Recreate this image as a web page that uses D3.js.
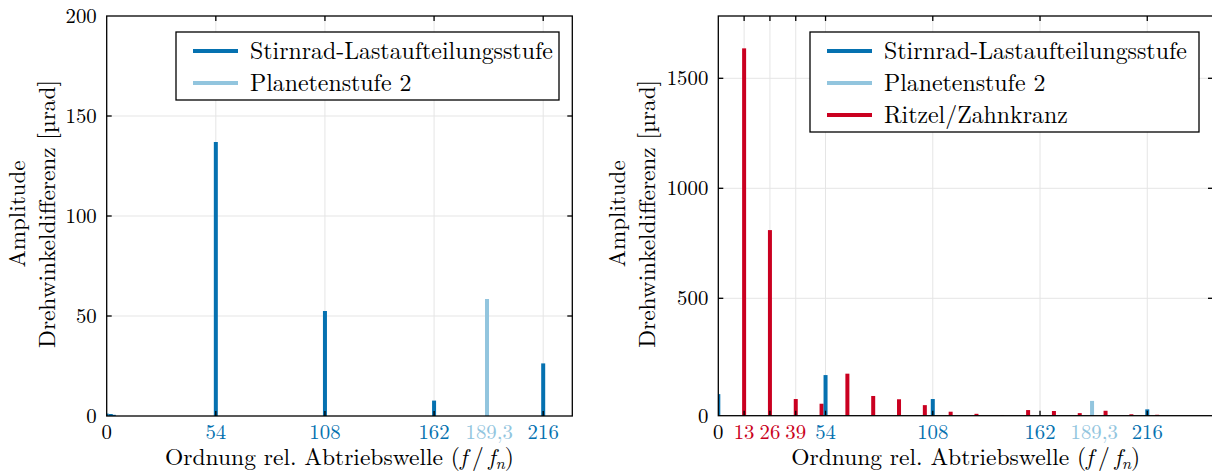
<!DOCTYPE html>
<html><head><meta charset="utf-8">
<script src="https://cdn.jsdelivr.net/npm/d3@7"></script>
<style>
body{margin:0;background:#fff;}
</style></head>
<body><svg id="c" width="1212" height="475"></svg>
<script>
// ---------- data ----------
const seriesNames = ["Stirnrad-Lastaufteilungsstufe", "Planetenstufe 2", "Ritzel/Zahnkranz"];
const colors = ["#0571b0", "#92c5de", "#ca0020"];

// left chart
const leftBlueX = [0, 2, 3.5, 54, 108, 162, 216];
const leftBlueY = [1.2, 1.0, 0.6, 137, 52.5, 7.7, 26.3];
const leftLightX = [188.2];
const leftLightY = [58.5];
const leftYTicks = [0, 50, 100, 150, 200];
const leftXTicks = [0, 54, 108, 162, 189.3, 216];
const leftXTickLabels = ["0", "54", "108", "162", "189,3", "216"];
const leftXTickSeries = [-1, 0, 0, 0, 1, 0];
const leftXGrid = [54, 108, 162, 216];

// right chart
const rightBlueX = [0, 54, 108, 162, 216];
const rightBlueY = [92, 173, 71, 2, 27];
const rightLightX = [188.2];
const rightLightY = [63];
const rightRedX = [13, 26, 39, 52, 65, 78, 91, 104, 117, 130, 143, 156, 169, 182, 195, 208, 221];
const rightRedY = [1636, 810, 71, 51, 179, 84, 70, 45, 17, 8, 3, 24, 20, 11, 21, 6, 4];
const rightYTicks = [0, 500, 1000, 1500];
const rightXTicks = [0, 13, 26, 39, 54, 108, 162, 189.3, 216];
const rightXTickLabels = ["0", "13", "26", "39", "54", "108", "162", "189,3", "216"];
const rightXTickSeries = [-1, 2, 2, 2, 0, 0, 0, 1, 0];
const rightXGrid = [13, 26, 39, 54, 108, 162, 216];

// ---------- drawing ----------
const FONT = "Latin Modern Roman";
const svg = d3.select("#c");
svg.append("rect").attr("width",1212).attr("height",475).attr("fill","#fff");

function fit(str, target, def){
  const p = svg.append("text").attr("font-family",FONT).attr("font-size",20).text(str);
  let s = 20*target/p.node().getComputedTextLength();
  p.remove();
  return (s>12 && s<30) ? s : def;
}
const FS_TICK = fit("1500", 41.6, 21);
const FS_LEG = fit("Stirnrad-Lastaufteilungsstufe", 303, 21);
const FS_AMP = fit("Amplitude", 107, 21);
const FS_DREH = fit("Drehwinkeldifferenz [µrad]", 268, 21);
const FS_XT = fit("Ordnung rel. Abtriebswelle (f\u2009/\u2009fn)", 353, 21);

function T(sel, fs){ return sel.attr("font-family",FONT).attr("font-size",fs).attr("fill","#000"); }

function panel(o){
  const g = svg.append("g");
  const x = d3.scaleLinear().domain(o.xDomain).range([o.left, o.right]);
  const y = d3.scaleLinear().domain(o.yDomain).range(o.yRange);
  const top = y.range()[y.range().length-1], bottom = y.range()[0];
  const clipId = "clip"+o.id;
  svg.append("clipPath").attr("id",clipId).append("rect")
    .attr("x",o.left).attr("y",top).attr("width",o.right-o.left).attr("height",bottom-top);
  // grid
  g.selectAll(".gx").data(o.xGrid).join("line")
    .attr("x1",d=>x(d)).attr("x2",d=>x(d)).attr("y1",top).attr("y2",bottom)
    .attr("stroke","#e5e5e5").attr("stroke-width",1);
  g.selectAll(".gy").data(o.yTicks.filter(d=>d>0 && y(d)>top+1)).join("line")
    .attr("x1",o.left).attr("x2",o.right).attr("y1",d=>y(d)).attr("y2",d=>y(d))
    .attr("stroke","#e5e5e5").attr("stroke-width",1);
  // bars
  const bw = 4;
  const bars = g.append("g").attr("clip-path",`url(#${clipId})`);
  o.series.forEach(s=>{
    bars.selectAll(null).data(s.x.map((v,i)=>[v,s.y[i]])).join("rect")
      .attr("x",d=>x(d[0])-bw/2).attr("width",bw)
      .attr("y",d=>y(d[1])).attr("height",d=>y(0)-y(d[1]))
      .attr("fill",colors[s.c]);
  });
  // frame
  g.append("rect").attr("x",o.left).attr("y",top).attr("width",o.right-o.left).attr("height",bottom-top)
    .attr("fill","none").attr("stroke","#000").attr("stroke-width",1.3);
  // inward ticks
  const tl = 5;
  o.xGrid.forEach(d=>{
    g.append("line").attr("x1",x(d)).attr("x2",x(d)).attr("y1",bottom).attr("y2",bottom-tl).attr("stroke","#000").attr("stroke-width",1.3);
    g.append("line").attr("x1",x(d)).attr("x2",x(d)).attr("y1",top).attr("y2",top+tl).attr("stroke","#000").attr("stroke-width",1.3);
  });
  o.yTicks.filter(d=>d>0 && y(d)>top+1).forEach(d=>{
    g.append("line").attr("x1",o.left).attr("x2",o.left+tl).attr("y1",y(d)).attr("y2",y(d)).attr("stroke","#000").attr("stroke-width",1.3);
    g.append("line").attr("x1",o.right).attr("x2",o.right-tl).attr("y1",y(d)).attr("y2",y(d)).attr("stroke","#000").attr("stroke-width",1.3);
  });
  // tick labels
  T(g.selectAll(".yl").data(o.yTicks).join("text"), FS_TICK)
    .attr("x",o.left-10).attr("y",d=>y(d)).attr("dy","0.33em")
    .attr("text-anchor","end").text(d=>d);
  T(g.selectAll(".xl").data(o.xTicks).join("text"), FS_TICK)
    .attr("x",d=>x(d)).attr("y",bottom+23)
    .attr("text-anchor","middle")
    .attr("fill",(d,i)=>o.xTickSeries[i]<0?"#000":colors[o.xTickSeries[i]])
    .text((d,i)=>o.xTickLabels[i]);
  // x title
  const xt = T(g.append("text"), FS_XT).attr("x",(o.left+o.right)/2).attr("y",465)
    .attr("text-anchor","middle");
  xt.append("tspan").text("Ordnung rel. Abtriebswelle (");
  xt.append("tspan").attr("font-style","italic").text("f");
  xt.append("tspan").text("\u2009/\u2009");
  xt.append("tspan").attr("font-style","italic").text("f");
  xt.append("tspan").attr("font-style","italic").attr("font-size",FS_XT*0.7).attr("dy","4").text("n");
  xt.append("tspan").attr("dy","-4").text(")");
  // y title
  const cy = (top+bottom)/2 - 2;
  T(g.append("text"), FS_AMP).attr("transform",`translate(${o.yTitleX},${cy}) rotate(-90)`)
    .attr("text-anchor","middle").attr("dy","0.35em").text("Amplitude");
  T(g.append("text"), FS_DREH).attr("transform",`translate(${o.yTitleX+30},${cy}) rotate(-90)`)
    .attr("text-anchor","middle").attr("dy","0.35em").text("Drehwinkeldifferenz [µrad]");
  // legend
  const L = o.legend;
  g.append("rect").attr("x",L.x).attr("y",L.y).attr("width",L.w).attr("height",L.h)
    .attr("fill","#fff").attr("stroke","#000").attr("stroke-width",1.3);
  L.items.forEach((c,i)=>{
    const yy = L.y+19+i*32;
    g.append("line").attr("x1",L.x+17).attr("x2",L.x+62).attr("y1",yy).attr("y2",yy)
      .attr("stroke",colors[c]).attr("stroke-width",4);
    T(g.append("text"), FS_LEG).attr("x",L.x+74).attr("y",yy).attr("dy","0.33em")
      .text(seriesNames[c]);
  });
}

panel({
  id:"L", left:106.7, right:572.3, xDomain:[0,230.4],
  yDomain:[0,200], yRange:[416,16],
  xGrid:leftXGrid, yTicks:leftYTicks, xTicks:leftXTicks,
  xTickLabels:leftXTickLabels, xTickSeries:leftXTickSeries,
  series:[{x:leftBlueX,y:leftBlueY,c:0},{x:leftLightX,y:leftLightY,c:1}],
  yTitleX:17,
  legend:{x:176,y:32,w:383,h:68,items:[0,1]}
});
panel({
  id:"R", left:718.3, right:1213, xDomain:[0,249.1],
  yDomain:[0,500,1500,1783], yRange:[415.7,298.3,78.3,16],
  xGrid:rightXGrid, yTicks:rightYTicks, xTicks:rightXTicks,
  xTickLabels:rightXTickLabels, xTickSeries:rightXTickSeries,
  series:[{x:rightRedX,y:rightRedY,c:2},{x:rightBlueX,y:rightBlueY,c:0},{x:rightLightX,y:rightLightY,c:1}],
  yTitleX:617,
  legend:{x:810,y:32,w:389,h:100,items:[0,1,2]}
});
</script></body></html>
